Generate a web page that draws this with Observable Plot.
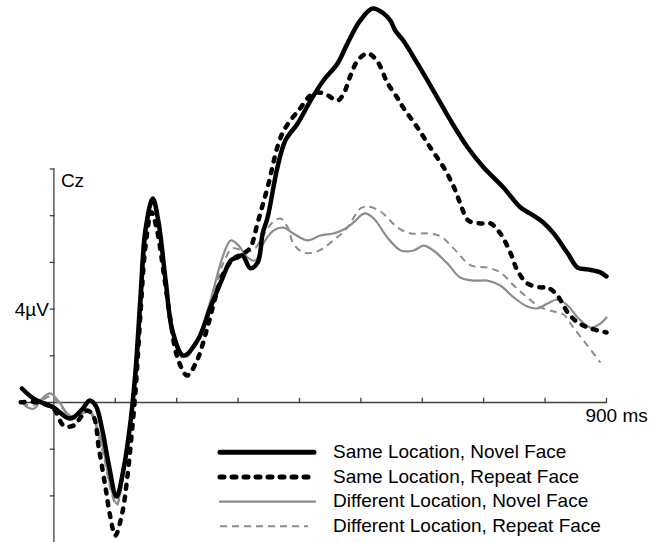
<!DOCTYPE html>
<html><head><meta charset="utf-8">
<script src="https://cdn.jsdelivr.net/npm/d3@7"></script>
<script src="https://cdn.jsdelivr.net/npm/@observablehq/plot@0.6"></script>
<style>
body{margin:0;background:#fff;}
#wrap{position:relative;width:661px;height:542px;font-family:"Liberation Sans",Arial,sans-serif;}
.lt{position:absolute;left:333px;font-size:19px;line-height:24.6px;height:24.6px;color:#000;white-space:nowrap;}
#legLines{position:absolute;left:0;top:0;pointer-events:none;}
</style></head><body><div id="wrap"></div>
<script>
// ---- data (time in ms, amplitude in µV) ----
const seriesNames = [
  "Same Location, Novel Face",
  "Same Location, Repeat Face",
  "Different Location, Novel Face",
  "Different Location, Repeat Face"
];
const tSLNF = [-52,-33,-1,27,47,58,68,79,89,102,113,125,133,141,149,161,170,182,193,211,234,255,275,288,299,307,320,332,340,348,364,377,397,418,439,462,478,499,519,537,548,556,569,592,618,646,674,700,732,760,776,797,814,837,853,869,890,900];
const vSLNF = [0.60,0.17,-0.21,-0.69,-0.26,0.09,-0.13,-1.20,-2.61,-4.03,-2.91,-0.77,1.37,4.50,7.37,8.74,7.79,5.22,3.08,2.01,2.66,4.07,5.35,6.08,6.21,6.30,5.75,6.00,7.24,7.92,10.06,11.22,11.95,12.93,13.79,14.52,15.37,16.36,16.87,16.66,16.36,15.93,15.50,14.52,13.36,12.08,10.92,10.06,9.21,8.35,8.09,7.71,7.24,6.38,5.78,5.70,5.57,5.40];
const tSLRF = [-54,-27,-1,16,32,54,65,73,84,92,100,111,119,128,133,141,149,159,168,179,190,201,217,233,250,263,276,293,309,320,332,348,372,402,418,431,446,462,472,483,495,511,527,543,560,569,592,613,635,651,662,675,695,711,727,744,755,771,793,804,820,837,853,874,900];
const vSLRF = [0.01,0.01,-0.26,-0.99,-0.99,-0.34,-0.63,-1.91,-3.63,-4.91,-5.70,-4.77,-3.34,-0.99,0.51,3.81,6.64,8.15,7.37,5.52,3.51,1.94,1.16,1.80,3.21,4.50,5.52,6.17,6.38,6.64,7.71,9.21,11.52,12.63,13.15,13.28,13.15,12.93,13.23,14.00,14.65,14.95,14.60,13.70,13.02,12.63,11.78,10.92,10.06,9.25,8.52,7.79,7.67,7.67,7.24,6.38,5.65,5.10,4.93,4.93,4.58,3.85,3.43,3.17,3.00];
const tDLNF = [-52,-43,-32,-19,-6,8,22,32,47,60,71,81,92,102,113,125,135,143,151,161,170,182,193,211,234,255,275,288,301,315,328,341,358,374,390,413,434,455,472,488,506,521,543,565,586,602,618,641,662,683,706,727,749,771,788,804,820,837,853,874,890,900];
const vDLNF = [0.04,-0.21,-0.26,0.17,0.39,0.04,-0.47,-0.60,-0.34,-0.39,-1.11,-2.06,-3.55,-4.33,-3.13,-0.77,1.37,4.50,7.37,8.65,7.71,5.14,3.00,1.97,2.74,4.37,6.25,6.94,6.72,6.21,6.08,6.81,7.37,7.49,7.24,6.94,7.15,7.24,7.41,7.71,8.10,7.88,7.07,6.51,6.51,6.72,6.51,5.95,5.35,5.22,5.22,5.01,4.50,4.11,4.03,4.24,4.41,4.15,3.64,3.21,3.38,3.64];
const tDLRF = [-52,-41,-30,-17,-6,8,22,35,50,61,71,81,92,102,113,125,135,143,151,161,170,182,193,211,234,255,275,291,307,324,340,356,369,381,390,407,429,455,478,499,512,532,560,581,609,630,651,679,706,727,749,771,793,814,830,846,869,890];
const vDLRF = [0.04,-0.13,-0.09,0.13,0.26,-0.04,-0.51,-0.69,-0.43,-0.51,-1.28,-2.27,-3.68,-4.41,-3.21,-0.77,1.28,4.37,7.24,8.52,7.58,5.05,2.96,1.88,2.57,4.15,5.91,6.60,6.51,6.51,7.11,7.71,7.88,7.49,6.81,6.42,6.47,6.94,7.49,8.31,8.39,8.18,7.49,7.24,7.24,7.11,6.60,5.87,5.78,5.57,5.01,4.50,4.07,3.90,3.77,3.21,2.44,1.71];
const xTicks = [100,200,300,400,500,600,700,800,900];
const yTicks = [-6,-4,-2,2,4,6,8,10];
const yAxisRange = [-6,10];
const xAxisRange = [-52,900];
const labelCz = "Cz";
const labelY = "4µV";
const labelYValue = 4;
const labelX = "900 ms";

// ---- styles ----
const styles = [
  {stroke:"#000", width:4.5, dash:null, cap:"round"},
  {stroke:"#000", width:4.5, dash:"4,8", cap:"round"},
  {stroke:"#8c8c8c", width:2.2, dash:null, cap:"round"},
  {stroke:"#8c8c8c", width:2, dash:"7,5", cap:"butt"}
];
const ts = [tSLNF,tSLRF,tDLNF,tDLRF];
const vs = [vSLNF,vSLRF,vDLNF,vDLRF];
const dataFor = i => ts[i].map((t,k)=>({series:seriesNames[i], t, v:vs[i][k]}));
const drawOrder = [3,2,0,1];
const axisColor = "#404040";

const chart = Plot.plot({
  width:661, height:542, margin:0,
  x:{domain:[-86.97,989.6], axis:null},
  y:{domain:[-5.996,17.216], axis:null},
  style:{fontFamily:"'Liberation Sans',Arial,sans-serif", fontSize:"19px", background:"white", overflow:"visible"},
  marks:[
    Plot.ruleY([0], {x1:xAxisRange[0], x2:xAxisRange[1], stroke:axisColor, strokeWidth:1.3}),
    Plot.ruleX([0], {y1:yAxisRange[0], y2:yAxisRange[1], stroke:axisColor, strokeWidth:1.3}),
    Plot.ruleY(yTicks, {x1:-6, x2:2, stroke:axisColor, strokeWidth:1.3}),
    Plot.ruleX(xTicks, {y1:-0.05, y2:0.18, stroke:axisColor, strokeWidth:1.3}),
    ...drawOrder.map(i => Plot.line(dataFor(i), {
      x:"t", y:"v", stroke:styles[i].stroke, strokeWidth:styles[i].width,
      strokeDasharray:styles[i].dash, strokeLinecap:styles[i].cap, strokeLinejoin:"round",
      curve:"catmull-rom"
    })),
    Plot.text([{t:0, v:yAxisRange[1], label:labelCz}], {x:"t", y:"v", text:"label", textAnchor:"start", lineAnchor:"top", dx:7, dy:4.5, fontSize:19, fill:"#000"}),
    Plot.text([{t:0, v:labelYValue, label:labelY}], {x:"t", y:"v", text:"label", textAnchor:"end", lineAnchor:"middle", dx:-5, dy:1, fontSize:19, fill:"#000"}),
    Plot.text([{t:xAxisRange[1], v:0, label:labelX}], {x:"t", y:"v", text:"label", textAnchor:"start", lineAnchor:"top", dx:-21, dy:6.5, fontSize:19, fill:"#000"})
  ]
});
const wrap = document.getElementById("wrap");
wrap.appendChild(chart);

// ---- legend (HTML overlay) ----
const rowCenters = [452.3, 477.1, 501.7, 526.2];
const legendSvg = d3.select(wrap).append("svg").attr("id","legLines").attr("width",661).attr("height",542);
const lineEnds = [[220,314],[220,308],[220,315],[220,308]];
seriesNames.forEach((name,i)=>{
  legendSvg.append("line")
    .attr("x1", lineEnds[i][0]).attr("x2", lineEnds[i][1])
    .attr("y1", rowCenters[i]).attr("y2", rowCenters[i])
    .attr("stroke", styles[i].stroke)
    .attr("stroke-width", i<2 ? 5 : styles[i].width)
    .attr("stroke-dasharray", styles[i].dash)
    .attr("stroke-linecap", styles[i].cap);
  const d = document.createElement("div");
  d.className = "lt";
  d.style.top = (rowCenters[i]-12.3)+"px";
  d.textContent = name;
  wrap.appendChild(d);
});
</script>
</body></html>
